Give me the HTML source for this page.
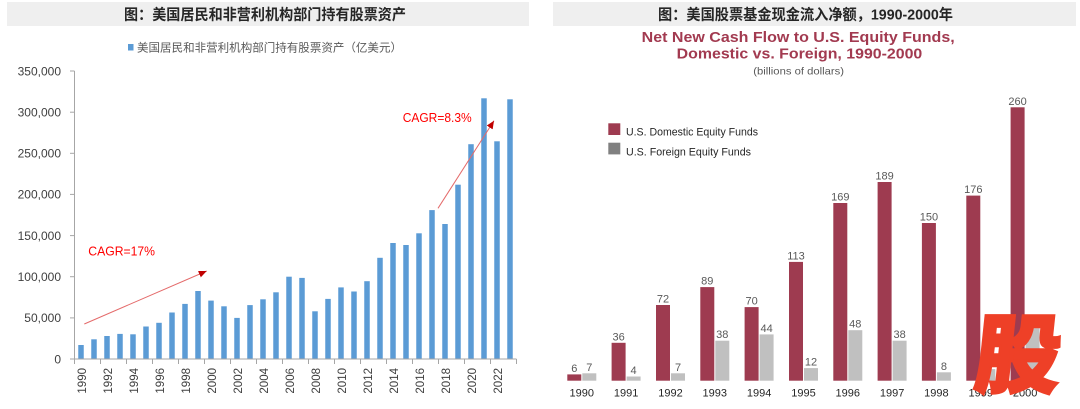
<!DOCTYPE html>
<html>
<head>
<meta charset="utf-8">
<style>
  html,body{margin:0;padding:0;background:#fff;}
  svg{display:block;}
  text{font-family:"Liberation Sans","Noto Sans CJK SC",sans-serif;}
</style>
</head>
<body>
<svg width="1080" height="409" viewBox="0 0 1080 409" xmlns="http://www.w3.org/2000/svg">
  <defs>
    <marker id="ah" markerUnits="userSpaceOnUse" markerWidth="9" markerHeight="8" refX="8" refY="3.5" orient="auto">
      <path d="M0,0 L8,3.5 L0,7 z" fill="#c00000"/>
    </marker>
  </defs>
  <rect width="1080" height="409" fill="#fff"/>

  <!-- Title bars -->
  <rect x="7" y="2" width="522" height="24" fill="#efefef"/>
  <rect x="553" y="2" width="523" height="24" fill="#efefef"/>
  <text x="124" y="19.7" font-size="15" font-weight="bold" fill="#262626" textLength="282" lengthAdjust="spacingAndGlyphs">图：美国居民和非营利机构部门持有股票资产</text>
  <text x="658" y="19.7" font-size="15" font-weight="bold" fill="#262626" textLength="295" lengthAdjust="spacingAndGlyphs">图：美国股票基金现金流入净额，1990-2000年</text>

  <!-- LEFT CHART -->
  <rect x="128" y="44" width="5.5" height="6.5" fill="#5b9bd5"/>
  <text x="137" y="51.4" font-size="11.5" fill="#595959" textLength="265" lengthAdjust="spacingAndGlyphs">美国居民和非营利机构部门持有股票资产（亿美元）</text>

  <!-- y axis -->
  <g stroke="#a6a6a6" stroke-width="1">
    <line x1="74.5" y1="71" x2="74.5" y2="359"/>
    <line x1="70" y1="359" x2="74.5" y2="359"/>
    <line x1="70" y1="317.9" x2="74.5" y2="317.9"/>
    <line x1="70" y1="276.7" x2="74.5" y2="276.7"/>
    <line x1="70" y1="235.6" x2="74.5" y2="235.6"/>
    <line x1="70" y1="194.4" x2="74.5" y2="194.4"/>
    <line x1="70" y1="153.3" x2="74.5" y2="153.3"/>
    <line x1="70" y1="112.2" x2="74.5" y2="112.2"/>
    <line x1="70" y1="71" x2="74.5" y2="71"/>
  </g>
  <g font-size="12" fill="#404040" text-anchor="end">
    <text x="61" y="363.3">0</text>
    <text x="61" y="322.2">50,000</text>
    <text x="61" y="281">100,000</text>
    <text x="61" y="239.9">150,000</text>
    <text x="61" y="198.7">200,000</text>
    <text x="61" y="157.6">250,000</text>
    <text x="61" y="116.5">300,000</text>
    <text x="61" y="75.3">350,000</text>
  </g>

  <!-- bars -->
  <g fill="#5b9bd5">
    <rect x="78.25" y="345.0" width="5.5" height="14.0"/>
    <rect x="91.25" y="339.3" width="5.5" height="19.7"/>
    <rect x="104.25" y="336.0" width="5.5" height="23.0"/>
    <rect x="117.25" y="333.9" width="5.5" height="25.1"/>
    <rect x="130.25" y="334.3" width="5.5" height="24.7"/>
    <rect x="143.25" y="326.5" width="5.5" height="32.5"/>
    <rect x="156.25" y="322.8" width="5.5" height="36.2"/>
    <rect x="169.25" y="312.5" width="5.5" height="46.5"/>
    <rect x="182.25" y="303.9" width="5.5" height="55.1"/>
    <rect x="195.25" y="291.0" width="5.5" height="68.0"/>
    <rect x="208.25" y="300.6" width="5.5" height="58.4"/>
    <rect x="221.25" y="306.3" width="5.5" height="52.7"/>
    <rect x="234.25" y="317.9" width="5.5" height="41.1"/>
    <rect x="247.25" y="305.1" width="5.5" height="53.9"/>
    <rect x="260.25" y="299.3" width="5.5" height="59.7"/>
    <rect x="273.25" y="292.3" width="5.5" height="66.7"/>
    <rect x="286.25" y="276.7" width="5.5" height="82.3"/>
    <rect x="299.25" y="277.9" width="5.5" height="81.1"/>
    <rect x="312.25" y="311.3" width="5.5" height="47.7"/>
    <rect x="325.25" y="298.9" width="5.5" height="60.1"/>
    <rect x="338.25" y="287.4" width="5.5" height="71.6"/>
    <rect x="351.25" y="291.5" width="5.5" height="67.5"/>
    <rect x="364.25" y="281.2" width="5.5" height="77.8"/>
    <rect x="377.25" y="257.8" width="5.5" height="101.2"/>
    <rect x="390.25" y="243.0" width="5.5" height="116.0"/>
    <rect x="403.25" y="245.0" width="5.5" height="114.0"/>
    <rect x="416.25" y="233.3" width="5.5" height="125.7"/>
    <rect x="429.25" y="210.1" width="5.5" height="148.9"/>
    <rect x="442.25" y="224.0" width="5.5" height="135.0"/>
    <rect x="455.25" y="184.7" width="5.5" height="174.3"/>
    <rect x="468.25" y="144.2" width="5.5" height="214.8"/>
    <rect x="481.25" y="98.3" width="5.5" height="260.7"/>
    <rect x="494.25" y="141.3" width="5.5" height="217.7"/>
    <rect x="507.25" y="99.3" width="5.5" height="259.7"/>
  </g>

  <!-- x axis -->
  <g stroke="#a6a6a6" stroke-width="1">
    <line x1="74.5" y1="359" x2="516.5" y2="359"/>
    <line x1="74.5" y1="359" x2="74.5" y2="364"/>
    <line x1="100.5" y1="359" x2="100.5" y2="364"/>
    <line x1="126.5" y1="359" x2="126.5" y2="364"/>
    <line x1="152.5" y1="359" x2="152.5" y2="364"/>
    <line x1="178.5" y1="359" x2="178.5" y2="364"/>
    <line x1="204.5" y1="359" x2="204.5" y2="364"/>
    <line x1="230.5" y1="359" x2="230.5" y2="364"/>
    <line x1="256.5" y1="359" x2="256.5" y2="364"/>
    <line x1="282.5" y1="359" x2="282.5" y2="364"/>
    <line x1="308.5" y1="359" x2="308.5" y2="364"/>
    <line x1="334.5" y1="359" x2="334.5" y2="364"/>
    <line x1="360.5" y1="359" x2="360.5" y2="364"/>
    <line x1="386.5" y1="359" x2="386.5" y2="364"/>
    <line x1="412.5" y1="359" x2="412.5" y2="364"/>
    <line x1="438.5" y1="359" x2="438.5" y2="364"/>
    <line x1="464.5" y1="359" x2="464.5" y2="364"/>
    <line x1="490.5" y1="359" x2="490.5" y2="364"/>
    <line x1="516.5" y1="359" x2="516.5" y2="364"/>
  </g>
  <g font-size="11.5" fill="#404040" text-anchor="end">
    <text x="86" y="368" transform="rotate(-90 86 368)">1990</text>
    <text x="112" y="368" transform="rotate(-90 112 368)">1992</text>
    <text x="138" y="368" transform="rotate(-90 138 368)">1994</text>
    <text x="164" y="368" transform="rotate(-90 164 368)">1996</text>
    <text x="190" y="368" transform="rotate(-90 190 368)">1998</text>
    <text x="216" y="368" transform="rotate(-90 216 368)">2000</text>
    <text x="242" y="368" transform="rotate(-90 242 368)">2002</text>
    <text x="268" y="368" transform="rotate(-90 268 368)">2004</text>
    <text x="294" y="368" transform="rotate(-90 294 368)">2006</text>
    <text x="320" y="368" transform="rotate(-90 320 368)">2008</text>
    <text x="346" y="368" transform="rotate(-90 346 368)">2010</text>
    <text x="372" y="368" transform="rotate(-90 372 368)">2012</text>
    <text x="398" y="368" transform="rotate(-90 398 368)">2014</text>
    <text x="424" y="368" transform="rotate(-90 424 368)">2016</text>
    <text x="450" y="368" transform="rotate(-90 450 368)">2018</text>
    <text x="476" y="368" transform="rotate(-90 476 368)">2020</text>
    <text x="502" y="368" transform="rotate(-90 502 368)">2022</text>
  </g>

  <!-- CAGR annotations -->
  <text x="88.3" y="255.5" font-size="12.5" fill="#ff0000" textLength="66.7" lengthAdjust="spacingAndGlyphs">CAGR=17%</text>
  <line x1="84.3" y1="324" x2="206.7" y2="271" stroke="#e46a6a" stroke-width="1" marker-end="url(#ah)"/>
  <text x="402.7" y="122" font-size="12.5" fill="#ff0000" textLength="69" lengthAdjust="spacingAndGlyphs">CAGR=8.3%</text>
  <line x1="438" y1="208.3" x2="494" y2="120.7" stroke="#e46a6a" stroke-width="1" marker-end="url(#ah)"/>

  <!-- RIGHT CHART -->
  <text x="641.7" y="41.8" font-size="14.5" font-weight="bold" fill="#a23a50" textLength="313" lengthAdjust="spacingAndGlyphs">Net New Cash Flow to U.S. Equity Funds,</text>
  <text x="676.7" y="58.4" font-size="14.5" font-weight="bold" fill="#a23a50" textLength="245.6" lengthAdjust="spacingAndGlyphs">Domestic vs. Foreign, 1990-2000</text>
  <text x="753.3" y="74.6" font-size="10.5" fill="#595959" textLength="90.7" lengthAdjust="spacingAndGlyphs">(billions of dollars)</text>

  <rect x="608.3" y="123.3" width="12" height="11.7" fill="#9e3b50"/>
  <text x="626" y="135.5" font-size="11" fill="#262626" textLength="132" lengthAdjust="spacingAndGlyphs">U.S. Domestic Equity Funds</text>
  <rect x="608.3" y="142.7" width="12" height="11.7" fill="#808080"/>
  <text x="626" y="155.5" font-size="11" fill="#262626" textLength="125" lengthAdjust="spacingAndGlyphs">U.S. Foreign Equity Funds</text>

  <!-- domestic bars -->
  <g fill="#9e3b50">
    <rect x="567.3" y="374.4" width="14" height="6.3"/>
    <rect x="611.6" y="342.8" width="14" height="37.9"/>
    <rect x="656.0" y="305.0" width="14" height="75.7"/>
    <rect x="700.3" y="287.1" width="14" height="93.6"/>
    <rect x="744.6" y="307.1" width="14" height="73.6"/>
    <rect x="789.0" y="261.9" width="14" height="118.8"/>
    <rect x="833.3" y="203.0" width="14" height="177.7"/>
    <rect x="877.6" y="182.0" width="14" height="198.7"/>
    <rect x="921.9" y="223.0" width="14" height="157.7"/>
    <rect x="966.3" y="195.6" width="14" height="185.1"/>
    <rect x="1010.6" y="107.3" width="14" height="273.4"/>
  </g>
  <!-- foreign bars -->
  <g fill="#c0c0c0">
    <rect x="582.3" y="373.3" width="14" height="7.4"/>
    <rect x="626.6" y="376.5" width="14" height="4.2"/>
    <rect x="671.0" y="373.3" width="14" height="7.4"/>
    <rect x="715.3" y="340.7" width="14" height="40.0"/>
    <rect x="759.6" y="334.4" width="14" height="46.3"/>
    <rect x="804.0" y="368.1" width="14" height="12.6"/>
    <rect x="848.3" y="330.2" width="14" height="50.5"/>
    <rect x="892.6" y="340.7" width="14" height="40.0"/>
    <rect x="936.9" y="372.3" width="14" height="8.4"/>
    <rect x="981.3" y="369.1" width="14" height="11.6"/>
    <rect x="1025.6" y="328.1" width="14" height="52.6"/>
  </g>
  <!-- value labels -->
  <g font-size="11" fill="#595959" text-anchor="middle">
    <text x="574.3" y="371.9">6</text>
    <text x="589.3" y="370.8">7</text>
    <text x="618.6" y="340.3">36</text>
    <text x="633.6" y="374.0">4</text>
    <text x="663.0" y="302.5">72</text>
    <text x="678.0" y="370.8">7</text>
    <text x="707.3" y="284.6">89</text>
    <text x="722.3" y="338.2">38</text>
    <text x="751.6" y="304.6">70</text>
    <text x="766.6" y="331.9">44</text>
    <text x="796.0" y="259.4">113</text>
    <text x="811.0" y="365.6">12</text>
    <text x="840.3" y="200.5">169</text>
    <text x="855.3" y="327.7">48</text>
    <text x="884.6" y="179.5">189</text>
    <text x="899.6" y="338.2">38</text>
    <text x="928.9" y="220.5">150</text>
    <text x="943.9" y="369.8">8</text>
    <text x="973.3" y="193.1">176</text>
    <text x="988.3" y="366.6">11</text>
    <text x="1017.6" y="104.8">260</text>
    <text x="1032.6" y="325.6">50</text>
  </g>
  <!-- year labels -->
  <g font-size="11" fill="#262626" text-anchor="middle">
    <text x="581.8" y="396.3">1990</text>
    <text x="626.1" y="396.3">1991</text>
    <text x="670.5" y="396.3">1992</text>
    <text x="714.8" y="396.3">1993</text>
    <text x="759.1" y="396.3">1994</text>
    <text x="803.5" y="396.3">1995</text>
    <text x="847.8" y="396.3">1996</text>
    <text x="892.1" y="396.3">1997</text>
    <text x="936.4" y="396.3">1998</text>
    <text x="980.8" y="396.3">1999</text>
    <text x="1025.1" y="396.3">2000</text>
  </g>

  <!-- watermark -->
  <text x="1016" y="386" font-size="86" font-weight="900" fill="#ee4027" stroke="#ee4027" stroke-width="2.5" text-anchor="middle" transform="skewX(-6) translate(40 0)" style="font-family:'Noto Sans CJK SC','WenQuanYi Zen Hei',sans-serif;">股</text>
</svg>
</body>
</html>
